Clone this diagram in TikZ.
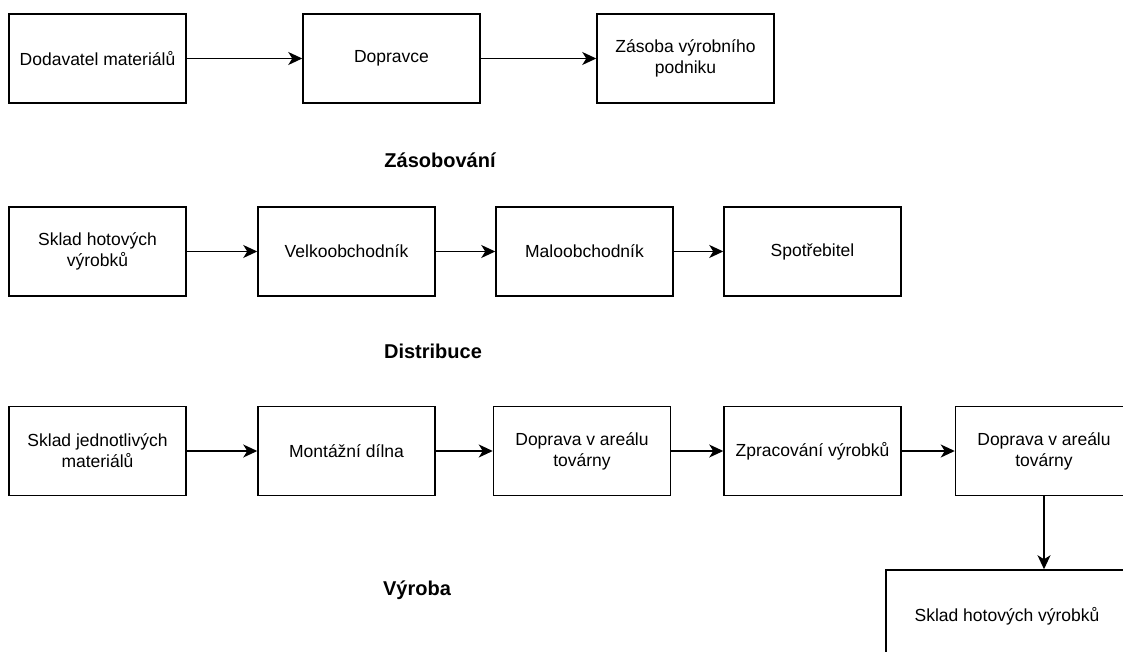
\documentclass[tikz,border=0pt]{standalone}
\usepackage{fontspec}
\setmainfont{Liberation Sans}
\usepackage{tikz}
\usetikzlibrary{arrows.meta}

\tikzset{
  stage/.style={draw, line width=1.5pt, minimum width=177pt, minimum height=89pt,
    align=center, inner sep=2pt, font=\fontsize{17.5}{21}\selectfont},
  heading/.style={font=\bfseries\fontsize{20}{24}\selectfont},
  flow/.style={-{Stealth[length=14pt, width=13pt, inset=4pt]}, line width=1.5pt},
}

\begin{document}
\begin{tikzpicture}[x=1pt, y=-1pt]
  \useasboundingbox (0,0) rectangle (1123,652);
  % Zasobovani
  \node[stage] (z1) at (97.5,58.5) {Dodavatel materiálů};
  \node[stage] (z2) at (391.5,58.5) {Dopravce};
  \node[stage] (z3) at (685.5,58.5) {Zásoba výrobního\\podniku};
  \node[heading] (zl) at (440,160) {Zásobování};
  % Distribuce
  \node[stage] (d1) at (97.5,251.5) {Sklad hotových\\výrobků};
  \node[stage] (d2) at (346.5,251.5) {Velkoobchodník};
  \node[stage] (d3) at (584.5,251.5) {Maloobchodník};
  \node[stage] (d4) at (812.5,251.5) {Spotřebitel};
  \node[heading] (dl) at (433,351) {Distribuce};
  % Vyroba
  \node[stage] (v1) at (97.5,451) {Sklad jednotlivých\\materiálů};
  \node[stage] (v2) at (346.5,451) {Montážní dílna};
  \node[stage] (v3) at (582,451) {Doprava v areálu\\továrny};
  \node[stage] (v4) at (812.5,451) {Zpracování výrobků};
  \node[stage] (v5) at (1044,451) {Doprava v areálu\\továrny};
  \node[stage, minimum width=242pt, minimum height=92pt] (v6) at (1007,616) {Sklad hotových výrobků};
  \node[heading] (vl) at (417,590) {Výroba};
  \path[flow]
  (z1) edge (z2)
  (z2) edge (z3)
  (d1) edge (d2)
  (d2) edge (d3)
  (d3) edge (d4)
  (v1) edge (v2)
  (v2) edge (v3)
  (v3) edge (v4)
  (v4) edge (v5)
  (v5) edge (v5.south |- v6.north)
  ;
\end{tikzpicture}
\end{document}
